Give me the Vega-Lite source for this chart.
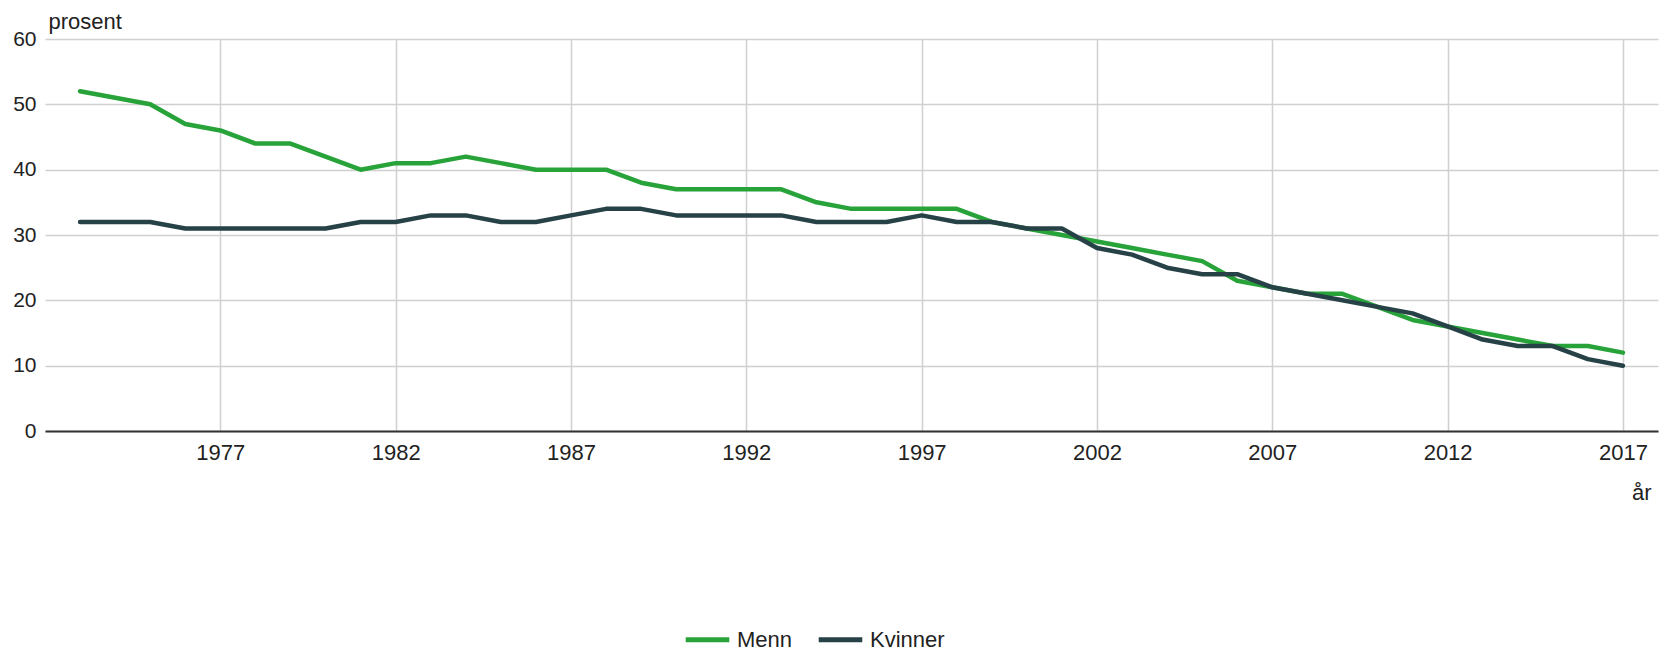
{
  "$schema": "https://vega.github.io/schema/vega-lite/v6.json",
  "width": 1613,
  "height": 392,
  "autosize": {"type": "none"},
  "padding": {"left": 45, "top": 39, "right": 11, "bottom": 220},
  "background": "white",
  "config": {
    "font": "Liberation Sans",
    "view": {"stroke": null}
  },
  "data": {
    "values": [
      {"year": 1973, "serie": "Menn", "v": 52}, {"year": 1974, "serie": "Menn", "v": 51}, {"year": 1975, "serie": "Menn", "v": 50},
      {"year": 1976, "serie": "Menn", "v": 47}, {"year": 1977, "serie": "Menn", "v": 46}, {"year": 1978, "serie": "Menn", "v": 44},
      {"year": 1979, "serie": "Menn", "v": 44}, {"year": 1980, "serie": "Menn", "v": 42}, {"year": 1981, "serie": "Menn", "v": 40},
      {"year": 1982, "serie": "Menn", "v": 41}, {"year": 1983, "serie": "Menn", "v": 41}, {"year": 1984, "serie": "Menn", "v": 42},
      {"year": 1985, "serie": "Menn", "v": 41}, {"year": 1986, "serie": "Menn", "v": 40}, {"year": 1987, "serie": "Menn", "v": 40},
      {"year": 1988, "serie": "Menn", "v": 40}, {"year": 1989, "serie": "Menn", "v": 38}, {"year": 1990, "serie": "Menn", "v": 37},
      {"year": 1991, "serie": "Menn", "v": 37}, {"year": 1992, "serie": "Menn", "v": 37}, {"year": 1993, "serie": "Menn", "v": 37},
      {"year": 1994, "serie": "Menn", "v": 35}, {"year": 1995, "serie": "Menn", "v": 34}, {"year": 1996, "serie": "Menn", "v": 34},
      {"year": 1997, "serie": "Menn", "v": 34}, {"year": 1998, "serie": "Menn", "v": 34}, {"year": 1999, "serie": "Menn", "v": 32},
      {"year": 2000, "serie": "Menn", "v": 31}, {"year": 2001, "serie": "Menn", "v": 30}, {"year": 2002, "serie": "Menn", "v": 29},
      {"year": 2003, "serie": "Menn", "v": 28}, {"year": 2004, "serie": "Menn", "v": 27}, {"year": 2005, "serie": "Menn", "v": 26},
      {"year": 2006, "serie": "Menn", "v": 23}, {"year": 2007, "serie": "Menn", "v": 22}, {"year": 2008, "serie": "Menn", "v": 21},
      {"year": 2009, "serie": "Menn", "v": 21}, {"year": 2010, "serie": "Menn", "v": 19}, {"year": 2011, "serie": "Menn", "v": 17},
      {"year": 2012, "serie": "Menn", "v": 16}, {"year": 2013, "serie": "Menn", "v": 15}, {"year": 2014, "serie": "Menn", "v": 14},
      {"year": 2015, "serie": "Menn", "v": 13}, {"year": 2016, "serie": "Menn", "v": 13}, {"year": 2017, "serie": "Menn", "v": 12},
      {"year": 1973, "serie": "Kvinner", "v": 32}, {"year": 1974, "serie": "Kvinner", "v": 32}, {"year": 1975, "serie": "Kvinner", "v": 32},
      {"year": 1976, "serie": "Kvinner", "v": 31}, {"year": 1977, "serie": "Kvinner", "v": 31}, {"year": 1978, "serie": "Kvinner", "v": 31},
      {"year": 1979, "serie": "Kvinner", "v": 31}, {"year": 1980, "serie": "Kvinner", "v": 31}, {"year": 1981, "serie": "Kvinner", "v": 32},
      {"year": 1982, "serie": "Kvinner", "v": 32}, {"year": 1983, "serie": "Kvinner", "v": 33}, {"year": 1984, "serie": "Kvinner", "v": 33},
      {"year": 1985, "serie": "Kvinner", "v": 32}, {"year": 1986, "serie": "Kvinner", "v": 32}, {"year": 1987, "serie": "Kvinner", "v": 33},
      {"year": 1988, "serie": "Kvinner", "v": 34}, {"year": 1989, "serie": "Kvinner", "v": 34}, {"year": 1990, "serie": "Kvinner", "v": 33},
      {"year": 1991, "serie": "Kvinner", "v": 33}, {"year": 1992, "serie": "Kvinner", "v": 33}, {"year": 1993, "serie": "Kvinner", "v": 33},
      {"year": 1994, "serie": "Kvinner", "v": 32}, {"year": 1995, "serie": "Kvinner", "v": 32}, {"year": 1996, "serie": "Kvinner", "v": 32},
      {"year": 1997, "serie": "Kvinner", "v": 33}, {"year": 1998, "serie": "Kvinner", "v": 32}, {"year": 1999, "serie": "Kvinner", "v": 32},
      {"year": 2000, "serie": "Kvinner", "v": 31}, {"year": 2001, "serie": "Kvinner", "v": 31}, {"year": 2002, "serie": "Kvinner", "v": 28},
      {"year": 2003, "serie": "Kvinner", "v": 27}, {"year": 2004, "serie": "Kvinner", "v": 25}, {"year": 2005, "serie": "Kvinner", "v": 24},
      {"year": 2006, "serie": "Kvinner", "v": 24}, {"year": 2007, "serie": "Kvinner", "v": 22}, {"year": 2008, "serie": "Kvinner", "v": 21},
      {"year": 2009, "serie": "Kvinner", "v": 20}, {"year": 2010, "serie": "Kvinner", "v": 19}, {"year": 2011, "serie": "Kvinner", "v": 18},
      {"year": 2012, "serie": "Kvinner", "v": 16}, {"year": 2013, "serie": "Kvinner", "v": 14}, {"year": 2014, "serie": "Kvinner", "v": 13},
      {"year": 2015, "serie": "Kvinner", "v": 13}, {"year": 2016, "serie": "Kvinner", "v": 11}, {"year": 2017, "serie": "Kvinner", "v": 10}
    ]
  },
  "mark": {"type": "line", "strokeWidth": 4.5, "strokeJoin": "round", "strokeCap": "round"},
  "encoding": {
    "x": {
      "field": "year", "type": "quantitative",
      "scale": {"domain": [1972, 2018], "nice": false, "zero": false},
      "axis": {
        "values": [1977, 1982, 1987, 1992, 1997, 2002, 2007, 2012, 2017],
        "format": "d",
        "title": "år",
        "titleX": 1606, "titleY": 61, "titleAlign": "right", "titleBaseline": "middle", "titleAnchor": null,
        "titleFont": "Liberation Sans", "titleFontSize": 22, "titleFontWeight": "normal", "titleColor": "#222",
        "labelFont": "Liberation Sans", "labelFontSize": 22, "labelColor": "#222", "labelPadding": 11,
        "ticks": false, "domainColor": "#333", "domainWidth": 2,
        "grid": true, "gridColor": "#d0d0d0", "gridWidth": 1.5
      }
    },
    "y": {
      "field": "v", "type": "quantitative",
      "scale": {"domain": [0, 60], "nice": false},
      "axis": {
        "values": [0, 10, 20, 30, 40, 50, 60],
        "title": "prosent",
        "titleAngle": 0, "titleX": 3, "titleY": -18, "titleAlign": "left", "titleBaseline": "middle", "titleAnchor": null,
        "titleFont": "Liberation Sans", "titleFontSize": 22, "titleFontWeight": "normal", "titleColor": "#222",
        "labelFont": "Liberation Sans", "labelFontSize": 21, "labelColor": "#222", "labelPadding": 9,
        "ticks": false, "domain": false,
        "grid": true, "gridColor": "#d0d0d0", "gridWidth": 1.5
      }
    },
    "color": {
      "field": "serie", "type": "nominal",
      "scale": {"domain": ["Menn", "Kvinner"], "range": ["#27a33a", "#274247"]},
      "legend": {
        "title": null, "orient": "none", "direction": "horizontal",
        "legendX": 638, "legendY": 576, "padding": 0,
        "symbolType": "stroke", "symbolSize": 1900, "symbolStrokeWidth": 5,
        "labelFont": "Liberation Sans", "labelFontSize": 22, "labelColor": "#222",
        "columnPadding": 15, "labelOffset": 5
      }
    }
  }
}
